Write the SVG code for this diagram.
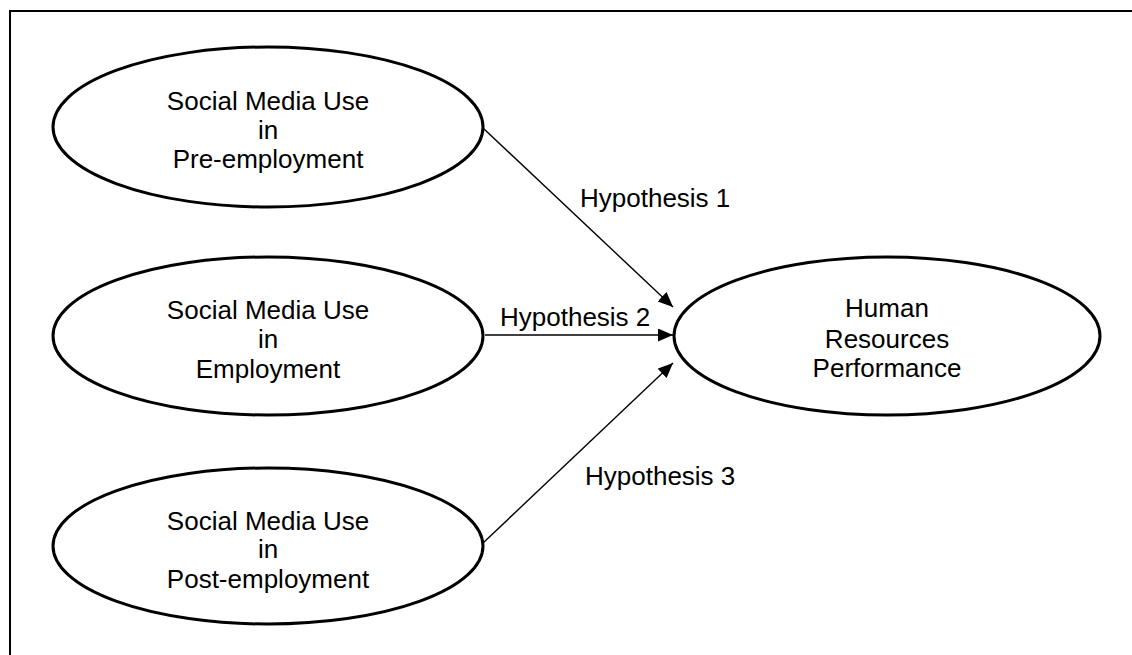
<svg xmlns="http://www.w3.org/2000/svg" width="1132" height="655" viewBox="0 0 1132 655">
<style>
.node ellipse{fill:#fff;stroke:#000;stroke-width:3}
text{font-family:"Liberation Sans",Arial,sans-serif;font-size:26px;fill:#000}
.node text{text-anchor:middle}
.conn line{stroke:#000;stroke-width:1.4}
</style>
<defs>
<marker id="arr" markerUnits="userSpaceOnUse" markerWidth="16" markerHeight="14" refX="15" refY="6.5" orient="auto">
<path d="M0,0 L15,6.5 L0,13 Z" fill="#000"/>
</marker>
</defs>
<rect x="0" y="0" width="1132" height="655" fill="#fff"/>
<rect x="10" y="11" width="1140" height="700" fill="none" stroke="#000" stroke-width="2"/>
<g id="connectors" class="conn">
<line x1="483" y1="128" x2="673" y2="307" marker-end="url(#arr)"/>
<line x1="485" y1="335" x2="673" y2="335" marker-end="url(#arr)"/>
<line x1="483" y1="543" x2="673" y2="363" marker-end="url(#arr)"/>
<text x="580" y="207">Hypothesis 1</text>
<text x="500" y="326">Hypothesis 2</text>
<text x="585" y="485">Hypothesis 3</text>
</g>
<g id="pre" class="node">
<ellipse cx="268" cy="127" rx="215" ry="80"/>
<text x="268" y="110">Social Media Use</text>
<text x="268" y="139">in</text>
<text x="268" y="168">Pre-employment</text>
</g>
<g id="emp" class="node">
<ellipse cx="268" cy="336" rx="215" ry="79"/>
<text x="268" y="319">Social Media Use</text>
<text x="268" y="348">in</text>
<text x="268" y="378">Employment</text>
</g>
<g id="post" class="node">
<ellipse cx="268" cy="546" rx="215" ry="78"/>
<text x="268" y="530">Social Media Use</text>
<text x="268" y="558">in</text>
<text x="268" y="588">Post-employment</text>
</g>
<g id="hr" class="node">
<ellipse cx="887" cy="336" rx="213" ry="79"/>
<text x="887" y="317">Human</text>
<text x="887" y="348">Resources</text>
<text x="887" y="377">Performance</text>
</g>
</svg>
